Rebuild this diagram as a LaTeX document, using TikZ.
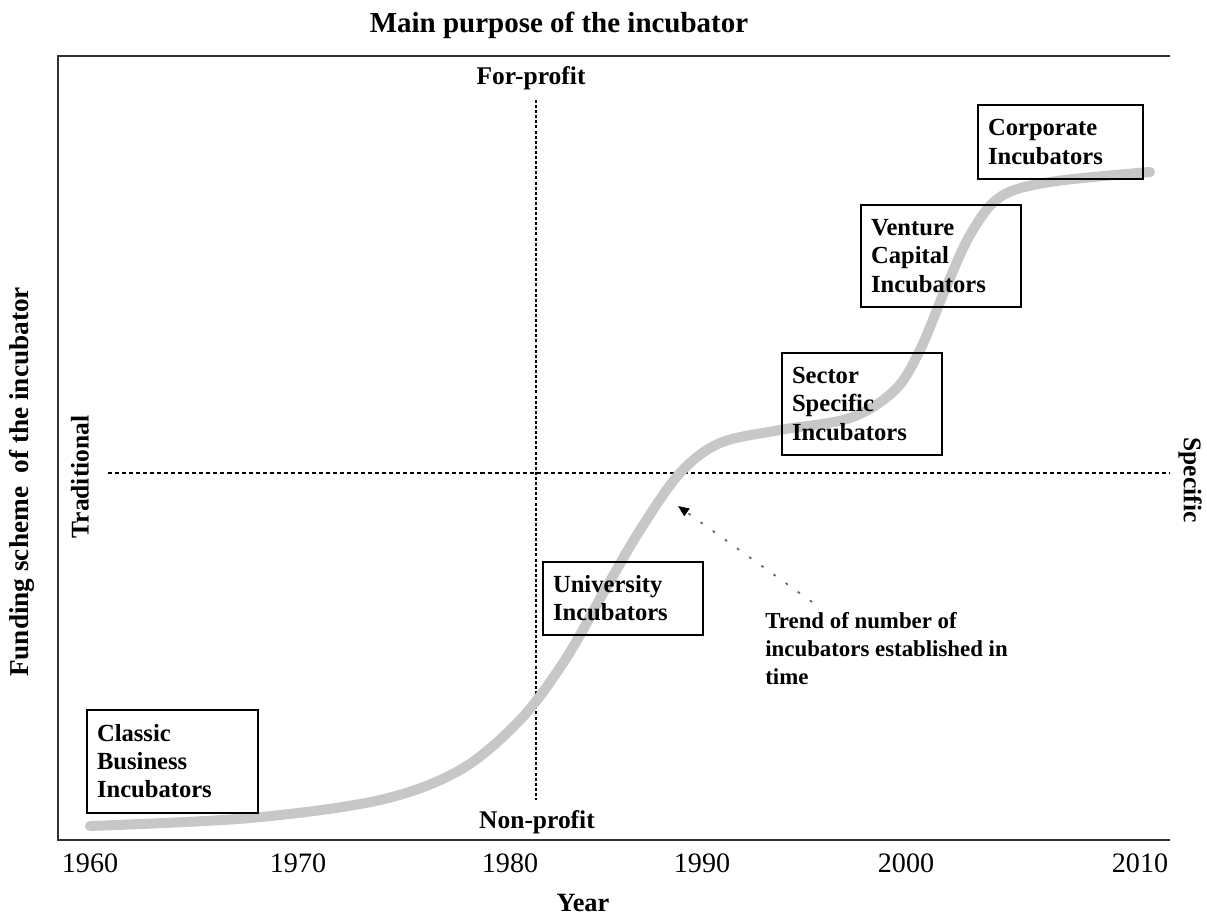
\documentclass[tikz,border=0pt]{standalone}
\usepackage{fontspec}
\setmainfont{Liberation Serif}
\usetikzlibrary{arrows.meta}

\tikzset{
  lbl/.style={font=\bfseries\fontsize{14.5}{16}\selectfont, inner sep=0pt},
  yearlbl/.style={font=\fontsize{16}{18}\selectfont, inner sep=0pt},
  box/.style={draw, line width=1.2pt, font=\bfseries\fontsize{14}{16}\selectfont, align=left, inner xsep=0.2cm, inner ysep=0pt},
  trendline/.style={line width=0.2cm, color=black!22, line cap=round},
}

\begin{document}
\begin{tikzpicture}[x=0.02cm, y=-0.02cm]
        \useasboundingbox (0,0) rectangle (1207,915);

        % frame
        \draw[line width=1.6pt, black!80] (1170,56) -- (58,56) -- (58,840) -- (1170,840);

        % axis labels
        \node[lbl, font=\bfseries\fontsize{16.5}{18}\selectfont] at (559, 25)  (title) {Main purpose of the incubator};
        \node[lbl, font=\bfseries\fontsize{15}{18}\selectfont]   at (583, 903) (year)  {Year};
        \node[lbl, rotate=90, font=\bfseries\fontsize{15.5}{18}\selectfont] at (22, 482) (funding) {Funding scheme\ \ of the incubator};
        \node[lbl, rotate=90]  at (80, 477)   (traditional) {Traditional};
        \node[lbl, rotate=-90] at (1190, 480) (specific)    {Specific};
        \node[lbl] at (531, 78)  (forprofit) {For-profit};
        \node[lbl] at (537, 822) (nonprofit) {Non-profit};

        \node[yearlbl] at (90, 863)   (y1960) {1960};
        \node[yearlbl] at (298, 863)  (y1970) {1970};
        \node[yearlbl] at (510, 863)  (y1980) {1980};
        \node[yearlbl] at (702, 863)  (y1990) {1990};
        \node[yearlbl] at (906, 863)  (y2000) {2000};
        \node[yearlbl] at (1140, 863) (y2010) {2010};

        % quadrant lines
        \draw[line width=1.3pt, dash pattern=on 1.7pt off 1.2pt] (536,100) -- (536,800);
        \draw[line width=0.7pt, dash pattern=on 2.3pt off 1.7pt] (108,473) -- (1170,473);

        % trend curve
        \draw[trendline] plot[smooth, tension=0.55] coordinates {
          (90,826) (250,818) (380,800) (460,770) (520,720) (565,660) (605,590)
          (640,530) (680,473) (720,443) (780,430) (850,418) (895,390) (920,350)
          (945,290) (970,235) (1000,197) (1050,182) (1150,172)};

        % incubator types
        \node[box, text width=3.02cm, minimum height=2.06cm] at (172.5, 761.5) (classic) {Classic\\Business\\Incubators};
        \node[box, text width=2.80cm, minimum height=1.46cm] at (623, 598.5)   (univ)    {University\\Incubators};
        \node[box, text width=2.80cm, minimum height=2.04cm] at (862, 404)     (sector)  {Sector\\Specific\\Incubators};
        \node[box, text width=2.80cm, minimum height=2.04cm] at (941, 256)     (venture) {Venture\\Capital\\Incubators};
        \node[box, text width=2.90cm, minimum height=1.48cm] at (1060.5, 142)  (corp)    {Corporate\\Incubators};

        % note on the curve
        \node[lbl, font=\bfseries\fontsize{13}{16}\selectfont, anchor=north west, align=left] at (765, 612) (trend) {Trend of number of\\incubators established in\\time};
        \coordinate (from) at (812, 602);
        \coordinate (tip)  at (678, 506);
        \draw[line width=1pt, black!60, dash pattern=on 1.5pt off 7pt, -{Triangle[length=0.22cm, width=0.18cm, black]}] (from) -- (tip);
      \end{tikzpicture}
\end{document}
